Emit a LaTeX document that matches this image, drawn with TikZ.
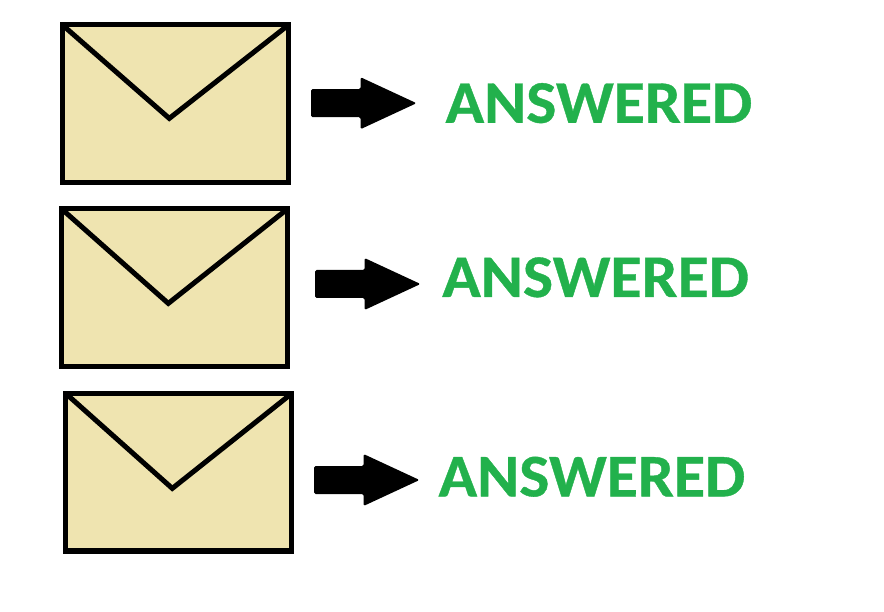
\documentclass[tikz,border=0pt]{standalone}
\usepackage{fontspec}
\setmainfont[BoldFeatures={FakeBold=0.6}]{Carlito}
\definecolor{envfill}{HTML}{EFE4B0}
\definecolor{ansgreen}{HTML}{22B14C}
\newcommand{\blockarrow}[2]{%
  \fill[black,rounded corners=1.5pt,line join=round]
    (#1,#2-14) -- (#1+49.5,#2-14) -- (#1+49.5,#2-26) -- (#1+105.5,#2) -- (#1+49.5,#2+26) -- (#1+49.5,#2+14) -- (#1,#2+14) -- cycle;
}
\tikzset{
  x=1pt,y=-1pt,
  envelope/.style={draw=black,fill=envfill,line width=5.2pt,minimum width=226pt,minimum height=157.6pt,inner sep=0pt,outer sep=0pt,rectangle},
  fold/.style={draw=black,line width=5pt,line join=miter},
  answer/.style={text=ansgreen,font=\fontsize{60.5}{60.5}\selectfont\bfseries,anchor=base west,inner sep=0pt,outer sep=0pt,xscale=1.055}
}
\begin{document}
\begin{tikzpicture}
\useasboundingbox (0,0) rectangle (884,612);
\node[envelope] (e1) at (175.4,103.6) {};
\coordinate (v1) at (169.3,118.4);
\draw[fold] ([xshift=1pt,yshift=-1pt]e1.north west) -- (v1) -- ([xshift=-1pt,yshift=-1pt]e1.north east);
\blockarrow{311}{103.2}
\node[answer] (t1) at (445.5,122.8) {ANSWERED};

\node[envelope] (e2) at (174.5,287.5) {};
\coordinate (v2) at (168.3,303.4);
\draw[fold] ([xshift=1pt,yshift=-1pt]e2.north west) -- (v2) -- ([xshift=-1pt,yshift=-1pt]e2.north east);
\blockarrow{315}{284}
\node[answer] (t2) at (442.2,297) {ANSWERED};

\node[envelope] (e3) at (178.7,472.1) {};
\coordinate (v3) at (172.3,488.4);
\draw[fold] ([xshift=1pt,yshift=-1pt]e3.north west) -- (v3) -- ([xshift=-1pt,yshift=-1pt]e3.north east);
\blockarrow{314}{480}
\node[answer] (t3) at (438.5,496.4) {ANSWERED};
\end{tikzpicture}
\end{document}
